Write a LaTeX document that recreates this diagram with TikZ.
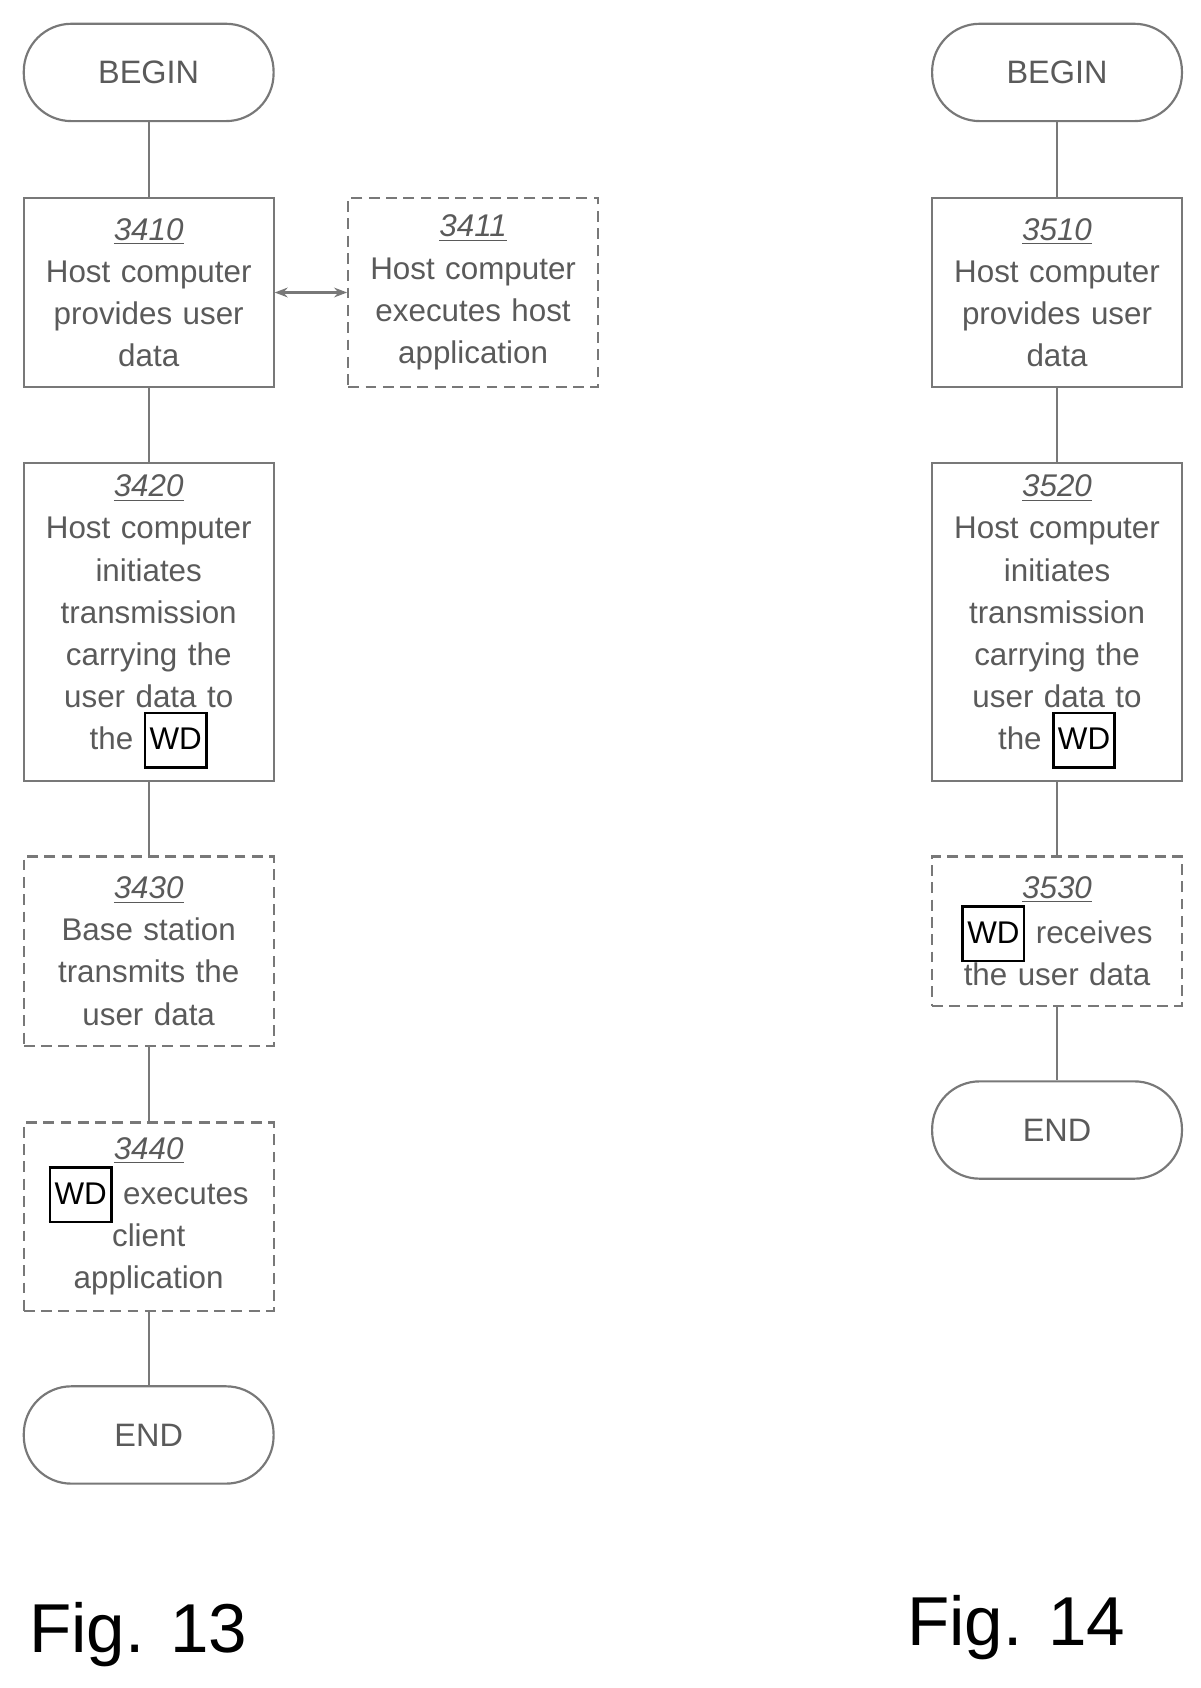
\documentclass[tikz,border=0pt]{standalone}
\usepackage{fontspec}
\setmainfont{Liberation Sans}
\usetikzlibrary{arrows.meta}
\definecolor{txtgray}{RGB}{90,90,90}
\definecolor{lngray}{RGB}{120,120,120}
\newcommand{\wdbox}{{\setlength{\fboxsep}{1.5pt}\setlength{\fboxrule}{1.2pt}\fcolorbox{black}{white}{\color{black}\rule[-6pt]{0pt}{21pt}WD}}}
\newcommand{\stepno}[1]{\underline{\textit{#1}}\\}
\tikzset{
  flowstep/.style={draw=lngray, line width=1pt, minimum width=115.5pt, text width=112pt, align=center, text=txtgray, font=\fontsize{14.5}{19.5}\selectfont, inner sep=1pt},
  opt/.style={flowstep, dashed, dash pattern=on 5pt off 3pt},
  term/.style={draw=lngray, line width=1pt, rounded corners=22pt, minimum width=115.5pt, minimum height=45pt, text=txtgray, font=\fontsize{15}{18}\selectfont},
  link/.style={draw=lngray, line width=1pt}
}
\begin{document}
\begin{tikzpicture}[x=0.5pt, y=-0.5pt]
    \useasboundingbox (0,0) rectangle (1110,1561);

    % Fig. 13
    \node[term] (b1) at (137.5,67) {BEGIN};
    \node[flowstep, minimum height=87.5pt] (s3410) at (137.5,270.5) {\stepno{3410}Host computer\\provides user\\data};
    \node[opt, minimum height=87.5pt] (s3411) at (437.5,270.5) {\stepno{3411}Host computer\\executes host\\application};
    \node[flowstep, minimum height=147pt] (s3420) at (137.5,575) {\stepno{3420}Host computer\\initiates\\transmission\\carrying the\\user data to\\the \wdbox};
    \node[opt, minimum height=87.5pt] (s3430) at (137.5,879.5) {\stepno{3430}Base station\\transmits the\\user data};
    \node[opt, minimum height=87pt] (s3440) at (137.5,1125) {\stepno{3440}\wdbox\ executes\\client\\application};
    \node[term] (e1) at (137.5,1327) {END};
    \node[font=\fontsize{32}{36}\selectfont, anchor=west] (f13) at (20,1512) {Fig. 13};

    \draw[link] (b1) -- (s3410);
    \draw[link, {Stealth[length=6pt]}-{Stealth[length=6pt]}] (s3410) -- (s3411);
    \draw[link] (s3410) -- (s3420);
    \draw[link] (s3420) -- (s3430);
    \draw[link] (s3430) -- (s3440);
    \draw[link] (s3440) -- (e1);

    % Fig. 14
    \node[term] (b2) at (977.5,67) {BEGIN};
    \node[flowstep, minimum height=87.5pt] (s3510) at (977.5,270.5) {\stepno{3510}Host computer\\provides user\\data};
    \node[flowstep, minimum height=147pt] (s3520) at (977.5,575) {\stepno{3520}Host computer\\initiates\\transmission\\carrying the\\user data to\\the \wdbox};
    \node[opt, minimum height=69pt] (s3530) at (977.5,861) {\stepno{3530}\wdbox\ receives\\the user data};
    \node[term] (e2) at (977.5,1045) {END};
    \node[font=\fontsize{32}{36}\selectfont, anchor=west] (f14) at (832,1505) {Fig. 14};

    \draw[link] (b2) -- (s3510);
    \draw[link] (s3510) -- (s3520);
    \draw[link] (s3520) -- (s3530);
    \draw[link] (s3530) -- (e2);
\end{tikzpicture}
\end{document}
